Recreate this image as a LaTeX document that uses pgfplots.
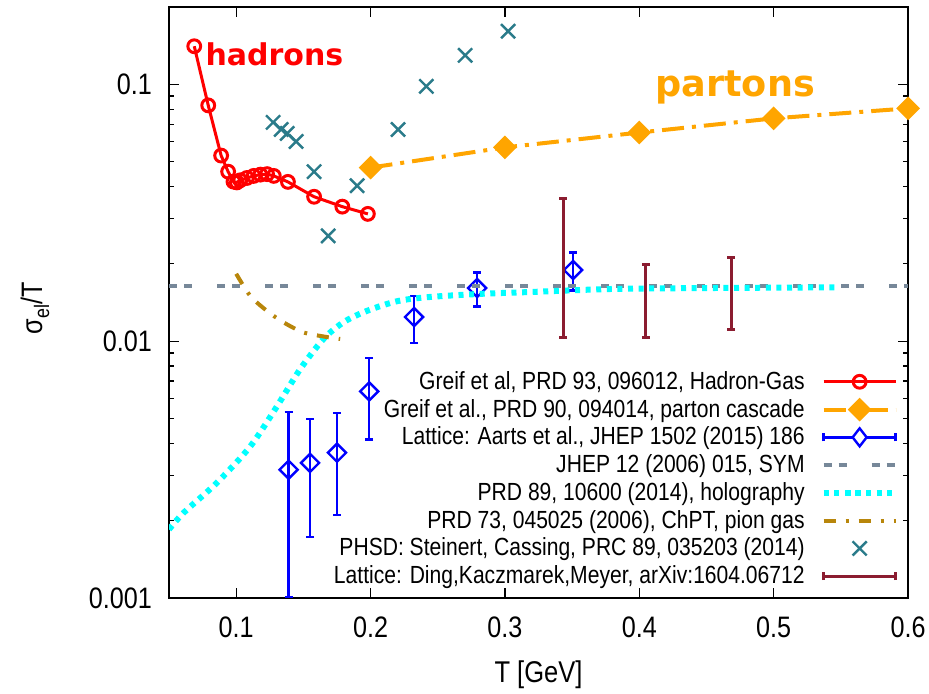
\documentclass[border=0pt]{standalone}
\usepackage{fontspec}
\setmainfont{Liberation Sans}[FakeStretch=0.85]
\newfontfamily\tagfont{DejaVu Sans}
\usepackage{pgfplots}
\pgfplotsset{compat=1.18}
\usetikzlibrary{calc}

\definecolor{hadred}{RGB}{255,0,0}
\definecolor{parorange}{RGB}{255,165,0}
\definecolor{symgray}{RGB}{119,136,153}
\definecolor{holocyan}{RGB}{0,255,255}
\definecolor{chptgold}{RGB}{184,134,11}
\definecolor{phsdteal}{RGB}{42,123,138}
\definecolor{dingred}{RGB}{139,28,48}

\begin{document}
\begin{tikzpicture}
\begin{axis}[
  scale only axis,
  width=369.5pt, height=295.5pt,
  xmin=0.05, xmax=0.6,
  ymode=log, ymin=0.001, ymax=0.2,
  xtick={0.1,0.2,0.3,0.4,0.5,0.6},
  xticklabels={0.1,0.2,0.3,0.4,0.5,0.6},
  ytick={0.001,0.01,0.1},
  yticklabels={0.001,0.01,0.1},
  minor ytick={0.002,0.003,0.004,0.005,0.006,0.007,0.008,0.009,
               0.02,0.03,0.04,0.05,0.06,0.07,0.08,0.09,0.2},
  tick align=inside,
  major tick length=5pt,
  minor tick length=2.5pt,
  tick style={black, line width=0.6pt},
  axis line style={line width=0.75pt},
  ticklabel style={font=\fontsize{14.8}{16}\selectfont},
  xticklabel style={yshift=-6pt},
  yticklabel style={xshift=-5pt},
  clip mode=individual,
  legend cell align=right,
  legend plot pos=right,
  legend style={draw=none, fill=none, at={(0.996,0.005)}, anchor=south east,
    font=\fontsize{12.4}{13.4}\selectfont, row sep=-0.6pt, column sep=6pt},
  legend image code/.code={%
    \draw[mark repeat=2,mark phase=2,#1] plot coordinates {(0pt,0pt) (18pt,0pt) (36pt,0pt)};},
]
\coordinate (SW) at (rel axis cs:0,0);
\coordinate (NE) at (rel axis cs:1,1);
\coordinate (W) at (rel axis cs:0,0.5);
\coordinate (S) at (rel axis cs:0.5,0);

% hadron gas
\addplot[hadred, line width=1.5pt, mark=o, mark size=3.2pt,
  mark options={solid, line width=1.5pt}] coordinates {
  (0.0688,0.1407) (0.0792,0.0828) (0.0888,0.0528) (0.094,0.0457)
  (0.098,0.0418) (0.1005,0.0415) (0.103,0.0423) (0.108,0.0432)
  (0.113,0.0440) (0.118,0.0445) (0.123,0.0447) (0.128,0.0440)
  (0.1385,0.0417) (0.158,0.0365) (0.179,0.0334) (0.198,0.0313)};
\addlegendentry{Greif et al, PRD 93, 096012, Hadron-Gas}

% parton cascade
\addplot[parorange, line width=2pt, dash pattern=on 11pt off 4pt on 2pt off 4pt,
  mark=square*, mark size=3.2pt, mark options={solid, rotate=45}] coordinates {
  (0.2,0.0474) (0.3,0.0568) (0.4,0.0649) (0.5,0.0737) (0.6,0.0806)};
\addlegendentry{Greif et al., PRD 90, 094014, parton cascade}

% lattice, Aarts et al.
\addplot[blue, line width=1.2pt, only marks, mark=square, mark size=3.2pt,
  mark options={solid, rotate=45, line width=1.2pt},
  legend image code/.code={%
    \draw[blue, line width=1.2pt] (0pt,0pt) -- (36pt,0pt)
      (0pt,-2pt) -- (0pt,2pt) (36pt,-2pt) -- (36pt,2pt);
    \draw[blue, line width=1.2pt, fill=white] (18pt,-4.5pt) -- (21.5pt,0pt)
      -- (18pt,4.5pt) -- (14.5pt,0pt) -- cycle;},
  error bars/.cd, y dir=both, y explicit,
  error bar style={line width=1.2pt, solid},
  error mark options={rotate=90, mark size=2pt, line width=1.2pt}]
  coordinates {
  (0.139,0.00316) +- (0,0.00215)
  (0.155,0.00336) +- (0,0.00163)
  (0.175,0.00368) +- (0,0.00157)
  (0.199,0.00638) +- (0,0.00224)
  (0.2324,0.01242) +- (0,0.00259)
  (0.2793,0.0161) +- (0,0.00244)
  (0.3507,0.01893) +- (0,0.0032)};
\addlegendentry{Lattice: Aarts et al., JHEP 1502 (2015) 186}

% SYM
\addplot[symgray, line width=2pt, dash pattern=on 4pt off 3.5pt on 4pt off 12.5pt]
  coordinates {(0.05,0.0164) (0.6,0.0164)};
\addlegendentry{JHEP 12 (2006) 015, SYM}

% holography
\addplot[holocyan, line width=3pt, dash pattern=on 2.5pt off 2.8pt, smooth] coordinates {
  (0.05,0.00185) (0.061,0.00215) (0.0856,0.00281) (0.1104,0.00389)
  (0.1303,0.00557) (0.1476,0.00778) (0.165,0.0102) (0.18,0.01186)
  (0.197,0.0131) (0.22,0.01432) (0.244,0.01486) (0.2815,0.01528)
  (0.319,0.01554) (0.38,0.01597) (0.45,0.0161) (0.546,0.0162)};
\addlegendentry{PRD 89, 10600 (2014), holography}

% ChPT pion gas
\addplot[chptgold, line width=2pt, dash pattern=on 6pt off 5pt on 1.5pt off 5pt, smooth]
  coordinates {
  (0.1,0.0183) (0.1104,0.01503) (0.1228,0.01313) (0.1352,0.01184)
  (0.150,0.01082) (0.165,0.01043) (0.1774,0.0102)};
\addlegendentry{PRD 73, 045025 (2006), ChPT, pion gas}

% PHSD
\addplot[phsdteal, only marks, mark=x, mark size=5pt, mark options={line width=1.2pt}]
  coordinates {
  (0.1275,0.0711) (0.1335,0.0667) (0.138,0.0644) (0.1446,0.0599)
  (0.158,0.0457) (0.1685,0.0257) (0.190,0.0403) (0.2205,0.0667)
  (0.2415,0.0982) (0.2704,0.1297) (0.3024,0.161)};
\addlegendentry{PHSD: Steinert, Cassing, PRC 89, 035203 (2014)}

% lattice, Ding et al. (error bars only)
\addplot[draw=none, mark=none,
  legend image code/.code={%
    \draw[dingred, line width=1.5pt] (0pt,0pt) -- (36pt,0pt)
      (0pt,-2pt) -- (0pt,2pt) (36pt,-2pt) -- (36pt,2pt);},
  error bars/.cd, y dir=both, y explicit,
  error bar style={draw=dingred, line width=1.5pt},
  error mark options={rotate=90, draw=dingred, mark size=2pt, line width=1.5pt}]
  coordinates {
  (0.3433,0.02314) +- (0,0.01276)
  (0.405,0.01509) +- (0,0.00471)
  (0.4683,0.01612) +- (0,0.00498)};
\addlegendentry{Lattice: Ding,Kaczmarek,Meyer, arXiv:1604.06712}

\node[anchor=base west, inner sep=0, text=hadred,
  font=\tagfont\bfseries\fontsize{15}{15}\selectfont] at (axis cs:0.0769,0.1186) {hadrons};
\node[anchor=base west, inner sep=0, text=parorange,
  font=\tagfont\bfseries\fontsize{18.3}{18}\selectfont] at (axis cs:0.4118,0.0895) {partons};
\end{axis}
\node[rotate=90, font=\fontsize{14.8}{16}\selectfont] at ($(W)+(-67pt,-3pt)$)
  {σ\raisebox{-0.45ex}{\fontsize{10.5}{11}\selectfont el}/T};
\node[font=\fontsize{15}{16}\selectfont] at ($(S)+(0,-38.5pt)$) {T [GeV]};
\pgfresetboundingbox
\path ($(SW)+(-84.5pt,-47.5pt)$) rectangle ($(NE)+(10.5pt,3.5pt)$);
\end{tikzpicture}
\end{document}
